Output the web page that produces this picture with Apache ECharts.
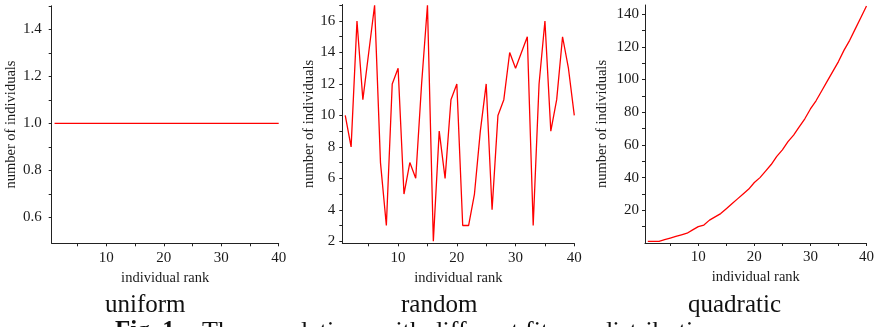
<!DOCTYPE html>
<html>
<head>
<meta charset="utf-8">
<script src="https://cdn.jsdelivr.net/npm/echarts@6/dist/echarts.min.js"></script>
<style>
html,body{margin:0;padding:0;background:#fff;}
#chart{width:877px;height:327px;}
</style>
</head>
<body>
<div id="chart"></div>
<script>
// ---- data ----
var ranks = [1,2,3,4,5,6,7,8,9,10,11,12,13,14,15,16,17,18,19,20,21,22,23,24,25,26,27,28,29,30,31,32,33,34,35,36,37,38,39,40];
var uniformValues = [1,1,1,1,1,1,1,1,1,1,1,1,1,1,1,1,1,1,1,1,1,1,1,1,1,1,1,1,1,1,1,1,1,1,1,1,1,1,1,1];
var randomValues = [10,8,16,11,14,17,7,3,12,13,5,7,6,12,17,2,9,6,11,12,3,3,5,9,12,4,10,11,14,13,14,15,3,12,16,9,11,15,13,10];
var quadraticValues = [1,1,1,2,3,4,5,6,8,10,11,14,16,18,21,24,27,30,33,37,40,44,48,53,57,62,66,71,76,82,87,93,99,105,111,118,124,131,138,145];
var xTicks = [5,10,15,20,25,30,35,40];
var xLabels = [10,20,30,40];
var uniformYTicks = [0.6,0.7,0.8,0.9,1.0,1.1,1.2,1.3,1.4,1.5];
var uniformYLabels = [0.6,0.8,1.0,1.2,1.4];
var randomYTicks = [2,3,4,5,6,7,8,9,10,11,12,13,14,15,16,17];
var randomYLabels = [2,4,6,8,10,12,14,16];
var quadraticYTicks = [10,20,30,40,50,60,70,80,90,100,110,120,130,140];
var quadraticYLabels = [20,40,60,80,100,120,140];
var panelTitles = ['uniform','random','quadratic'];
var xName = 'individual rank';
var yName = 'number of individuals';

function pairs(xs, ys){ return xs.map(function(x,i){ return [x, ys[i]]; }); }

var FONT = 'Liberation Serif';
var TXT = '#1a1a1a';

function makeX(idx){
  return {
    type:'value', gridIndex:idx, min:0.5, max:40,
    name:xName, nameLocation:'middle', nameGap:26,
    nameTextStyle:{fontFamily:FONT, fontSize:14.5, color:TXT},
    axisLine:{show:true, onZero:false, lineStyle:{color:'#222', width:1}},
    axisTick:{show:true, inside:false, length:3, customValues:xTicks, lineStyle:{color:'#222'}},
    axisLabel:{customValues:xLabels, margin:7, fontFamily:FONT, fontSize:15, color:TXT},
    splitLine:{show:false}
  };
}
function makeY(idx, min, max, ticks, labels, gap, margin, fmt){
  return {
    type:'value', gridIndex:idx, min:min, max:max,
    name:yName, nameLocation:'middle', nameRotate:90, nameGap:gap,
    nameTextStyle:{fontFamily:FONT, fontSize:14.5, color:TXT},
    axisLine:{show:true, onZero:false, lineStyle:{color:'#222', width:1}},
    axisTick:{show:true, inside:false, length:3, customValues:ticks, lineStyle:{color:'#222'}},
    axisLabel:{customValues:labels, margin:margin, fontFamily:FONT, fontSize:15, color:TXT, formatter:fmt},
    splitLine:{show:false}
  };
}

var chart = echarts.init(document.getElementById('chart'), null, {renderer:'canvas'});
var option = {
  backgroundColor:'#fff',
  animation:false,
  grid:[
    {left:51.7, right:598.3, top:5.8, bottom:83.7},
    {left:342.3, right:302.7, top:4.5, bottom:83.7},
    {left:645, right:8.3, top:5, bottom:84}
  ],
  xAxis:[makeX(0), makeX(1), makeX(2)],
  yAxis:[
    makeY(0, 0.49, 1.5, uniformYTicks, uniformYLabels, 24, 10, function(v){ return v.toFixed(1); }),
    makeY(1, 1.87, 17.05, randomYTicks, randomYLabels, 23, 7, function(v){ return String(v); }),
    makeY(2, 0, 145.6, quadraticYTicks, quadraticYLabels, 35, 6, function(v){ return String(v); })
  ],
  series:[
    {type:'line', xAxisIndex:0, yAxisIndex:0, data:pairs(ranks, uniformValues), showSymbol:false, lineStyle:{color:'#ff0000', width:1.3}, itemStyle:{color:'#ff0000'}},
    {type:'line', xAxisIndex:1, yAxisIndex:1, data:pairs(ranks, randomValues), showSymbol:false, lineStyle:{color:'#ff0000', width:1.3}, itemStyle:{color:'#ff0000'}},
    {type:'line', xAxisIndex:2, yAxisIndex:2, data:pairs(ranks, quadraticValues), showSymbol:false, lineStyle:{color:'#ff0000', width:1.3}, itemStyle:{color:'#ff0000'}}
  ],
  graphic:[
    {type:'text', left:105, top:293, style:{text:panelTitles[0], font:'25px "Liberation Serif"', fill:'#111'}},
    {type:'text', left:401, top:293, style:{text:panelTitles[1], font:'25px "Liberation Serif"', fill:'#111'}},
    {type:'text', left:688, top:293, style:{text:panelTitles[2], font:'25px "Liberation Serif"', fill:'#111'}},
    {type:'text', left:115, top:319, style:{text:'Fig. 1.', font:'bold 25px "Liberation Serif"', fill:'#111'}},
    {type:'text', left:202, top:319, style:{text:'The populations with different fitness distributions', font:'26px "Liberation Serif"', fill:'#111'}}
  ]
};
chart.setOption(option);
</script>
</body>
</html>
